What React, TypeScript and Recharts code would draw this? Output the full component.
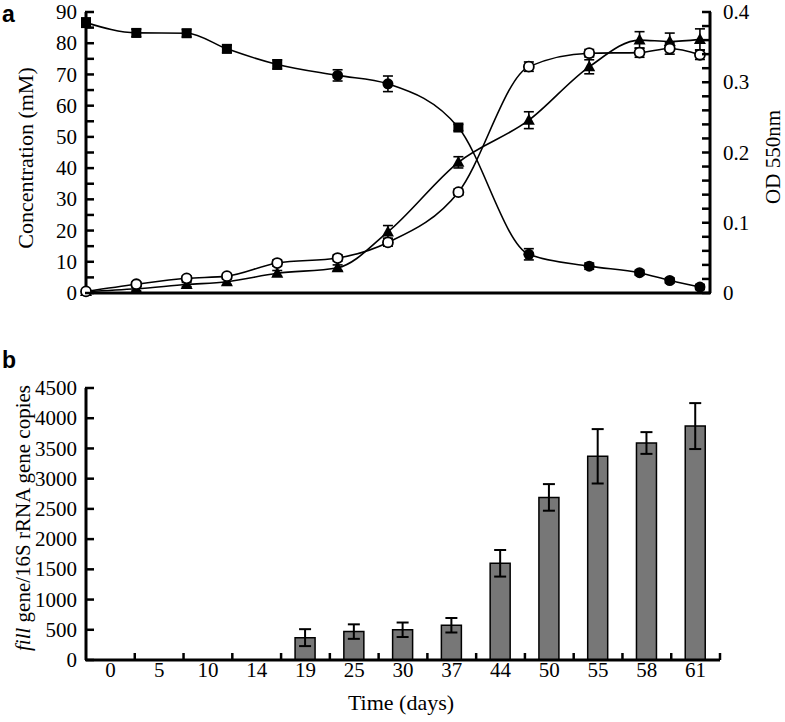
import React from "react";
import { Bar, BarChart, ErrorBar, Line, LineChart, XAxis, YAxis } from "recharts";

// sampling days, shared by both panels
const DAYS = [0, 5, 10, 14, 19, 25, 30, 37, 44, 50, 55, 58, 61];

// panel a: filled markers, decreasing (mM)
const FILLED_MM = [86.6, 83.3, 83.2, 78.2, 73.2, 69.7, 67.0, 53.0, 12.4, 8.6, 6.5, 4.0, 1.9];
const FILLED_ERR = [1.5, 1.2, 1.2, 1.2, 1.5, 1.8, 2.5, 1.0, 1.8, 1.0, 0.8, 0.8, 0.8];
// panel a: open circles, increasing (mM)
const OPEN_MM = [0.5, 2.8, 4.7, 5.4, 9.6, 11.2, 16.2, 32.3, 72.5, 76.8, 77.0, 78.3, 76.3];
const OPEN_ERR = [0.4, 0.8, 0.8, 0.8, 1.0, 1.0, 1.2, 1.0, 1.5, 1.2, 1.5, 1.8, 1.5];
// panel a: filled triangles (OD 550nm)
const TRI_OD = [0.002, 0.006, 0.012, 0.016, 0.028, 0.036, 0.087, 0.186, 0.246, 0.322, 0.36, 0.358, 0.361];
const TRI_ERR = [0.002, 0.003, 0.003, 0.004, 0.004, 0.004, 0.009, 0.008, 0.012, 0.01, 0.012, 0.012, 0.015];

// panel b: fill gene / 16S rRNA gene copies
const COPIES = [0, 0, 0, 0, 370, 470, 500, 575, 1600, 2690, 3370, 3590, 3870];
const COPIES_ERR = [0, 0, 0, 0, 140, 120, 120, 120, 220, 220, 450, 180, 380];

const LEFT_TICKS = [0, 5, 10, 15, 20, 25, 30, 35, 40, 45, 50, 55, 60, 65, 70, 75, 80, 85, 90];
const RIGHT_TICKS = [
  0, 0.02, 0.04, 0.06, 0.08, 0.1, 0.12, 0.14, 0.16, 0.18, 0.2,
  0.22, 0.24, 0.26, 0.28, 0.3, 0.32, 0.34, 0.36, 0.38, 0.4,
];
const COPY_TICKS = [0, 500, 1000, 1500, 2000, 2500, 3000, 3500, 4000, 4500];

const SERIF = "'Liberation Serif', 'Times New Roman', serif";
const SANS = "'Liberation Sans', Arial, sans-serif";
const TICK_FONT = 21;
const TICK_LEN = 8;

const lineData = DAYS.map((day, i) => ({
  day,
  filled: FILLED_MM[i],
  filledErr: FILLED_ERR[i],
  open: OPEN_MM[i],
  openErr: OPEN_ERR[i],
  tri: TRI_OD[i],
  triErr: TRI_ERR[i],
}));

const barData = DAYS.map((day, i) => ({
  day: String(day),
  copies: COPIES[i],
  err: COPIES_ERR[i],
}));

// inward tick mark + (optional) label; gap = distance from the label anchor back to the axis line
function makeYTick(
  side: "left" | "right",
  gap: number,
  labelled: (v: number) => boolean,
  fmt: (v: number) => string
) {
  return (p: any) => {
    const v = Number(p.payload.value);
    const x = Number(p.x);
    const y = Number(p.y);
    const ax = side === "left" ? x + gap : x - gap;
    const x0 = side === "left" ? ax - 1 : ax - TICK_LEN;
    return (
      <g key={`t-${side}-${v}`}>
        <rect x={x0} y={y - 1.25} width={TICK_LEN + 1} height={2.5} fill="#000" />
        {labelled(v) && (
          <text
            x={x}
            y={y}
            dy="0.34em"
            textAnchor={side === "left" ? "end" : "start"}
            fontSize={TICK_FONT}
            fontFamily={SERIF}
            fill="#000"
          >
            {fmt(v)}
          </text>
        )}
      </g>
    );
  };
}

const leftTick = makeYTick("left", 9, (v) => v % 10 === 0, (v) => String(v));
const rightTick = makeYTick(
  "right",
  13,
  (v) => Math.round(v * 100) % 10 === 0,
  (v) => (v === 0 ? "0" : v.toFixed(1))
);
const copyTick = makeYTick("left", 9, () => true, (v) => String(v));

// category label plus the small upward ticks at the category boundaries
function DayTick(p: any) {
  const x = Number(p.x);
  const y = Number(p.y);
  const band = Number(p.width) / DAYS.length;
  const last = p.index === DAYS.length - 1;
  return (
    <g key={`d-${p.index}`}>
      {p.index > 0 && (
        <line x1={x - band / 2} x2={x - band / 2} y1={y} y2={y - 7} stroke="#000" strokeWidth={2.5} />
      )}
      {last && (
        <line x1={x + band / 2} x2={x + band / 2} y1={y} y2={y - 7} stroke="#000" strokeWidth={2.5} />
      )}
      <text x={x} y={y + 17} textAnchor="middle" fontSize={TICK_FONT} fontFamily={SERIF} fill="#000">
        {p.payload.value}
      </text>
    </g>
  );
}

// squares for the early part of the decreasing series, circles later
function FilledDot(p: any) {
  const { cx, cy, index } = p;
  if (index <= 4 || index === 7) {
    return <rect key={`fd-${index}`} x={cx - 5} y={cy - 5} width={10} height={10} fill="#000" />;
  }
  return <circle key={`fd-${index}`} cx={cx} cy={cy} r={5.5} fill="#000" />;
}

function OpenDot(p: any) {
  return (
    <circle key={`od-${p.index}`} cx={p.cx} cy={p.cy} r={5} fill="#fff" stroke="#000" strokeWidth={1.8} />
  );
}

function TriDot(p: any) {
  const { cx, cy } = p;
  return (
    <path
      key={`td-${p.index}`}
      d={`M${cx},${cy - 6.5} L${cx - 6},${cy + 4.5} L${cx + 6},${cy + 4.5} Z`}
      fill="#000"
    />
  );
}

export default function App() {
  const axisLine = { stroke: "#000", strokeWidth: 3 };
  return (
    <div
      style={{
        position: "absolute",
        left: 0,
        top: 0,
        width: 785,
        height: 722,
        background: "#fff",
        fontFamily: SERIF,
      }}
    >
      <div style={{ position: "absolute", left: 0, top: 0 }}>
        <LineChart width={785} height={310} data={lineData} margin={{ top: 12, right: 15, bottom: 0, left: 20 }}>
          <XAxis
            dataKey="day"
            type="number"
            domain={[0, 62]}
            tick={false}
            tickLine={false}
            axisLine={axisLine}
            height={17}
          />
          <YAxis
            yAxisId="mm"
            domain={[0, 90]}
            ticks={LEFT_TICKS}
            interval={0}
            width={66}
            tickSize={0}
            tickMargin={9}
            tickLine={false}
            axisLine={axisLine}
            tick={leftTick}
          />
          <YAxis
            yAxisId="od"
            orientation="right"
            domain={[0, 0.4]}
            ticks={RIGHT_TICKS}
            interval={0}
            width={60}
            tickSize={0}
            tickMargin={13}
            tickLine={false}
            axisLine={axisLine}
            tick={rightTick}
          />
          <Line
            yAxisId="mm"
            dataKey="filled"
            type="monotone"
            stroke="#000"
            strokeWidth={1.6}
            dot={FilledDot}
            isAnimationActive={false}
          >
            <ErrorBar dataKey="filledErr" width={5} stroke="#000" strokeWidth={1.6} direction="y" />
          </Line>
          <Line
            yAxisId="od"
            dataKey="tri"
            type="monotone"
            stroke="#000"
            strokeWidth={1.6}
            dot={TriDot}
            isAnimationActive={false}
          >
            <ErrorBar dataKey="triErr" width={5} stroke="#000" strokeWidth={1.6} direction="y" />
          </Line>
          <Line
            yAxisId="mm"
            dataKey="open"
            type="monotone"
            stroke="#000"
            strokeWidth={1.6}
            dot={OpenDot}
            isAnimationActive={false}
          >
            <ErrorBar dataKey="openErr" width={5} stroke="#000" strokeWidth={1.6} direction="y" />
          </Line>
        </LineChart>
      </div>

      <div style={{ position: "absolute", left: 0, top: 320 }}>
        <BarChart width={785} height={402} data={barData} margin={{ top: 68, right: 65, bottom: 0, left: 20 }}>
          <XAxis
            dataKey="day"
            interval={0}
            height={62}
            axisLine={axisLine}
            tickLine={false}
            tickSize={0}
            tickMargin={0}
            tick={DayTick}
          />
          <YAxis
            domain={[0, 4500]}
            ticks={COPY_TICKS}
            interval={0}
            width={66}
            tickSize={0}
            tickMargin={9}
            tickLine={false}
            axisLine={axisLine}
            tick={copyTick}
          />
          <Bar
            dataKey="copies"
            fill="#777"
            stroke="#000"
            strokeWidth={1.5}
            barSize={20}
            isAnimationActive={false}
          >
            <ErrorBar dataKey="err" width={6} stroke="#000" strokeWidth={2} direction="y" />
          </Bar>
        </BarChart>
      </div>

      <svg
        width={785}
        height={722}
        style={{ position: "absolute", left: 0, top: 0, pointerEvents: "none" }}
      >
        <text x={2} y={22} fontFamily={SANS} fontWeight="bold" fontSize={23} fill="#000">
          a
        </text>
        <text x={2} y={368} fontFamily={SANS} fontWeight="bold" fontSize={23} fill="#000">
          b
        </text>
        <text
          transform="translate(33,158) rotate(-90)"
          textAnchor="middle"
          fontFamily={SERIF}
          fontSize={22}
          fill="#000"
        >
          Concentration (mM)
        </text>
        <text
          transform="translate(780,157) rotate(-90)"
          textAnchor="middle"
          fontFamily={SERIF}
          fontSize={21}
          fill="#000"
        >
          OD 550nm
        </text>
        <text
          transform="translate(30,518) rotate(-90)"
          textAnchor="middle"
          fontFamily={SERIF}
          fontSize={21}
          fill="#000"
        >
          <tspan fontStyle="italic">fill</tspan> gene/16S rRNA gene copies
        </text>
        <text x={401} y={710} textAnchor="middle" fontFamily={SERIF} fontSize={22} fill="#000">
          Time (days)
        </text>
      </svg>
    </div>
  );
}
